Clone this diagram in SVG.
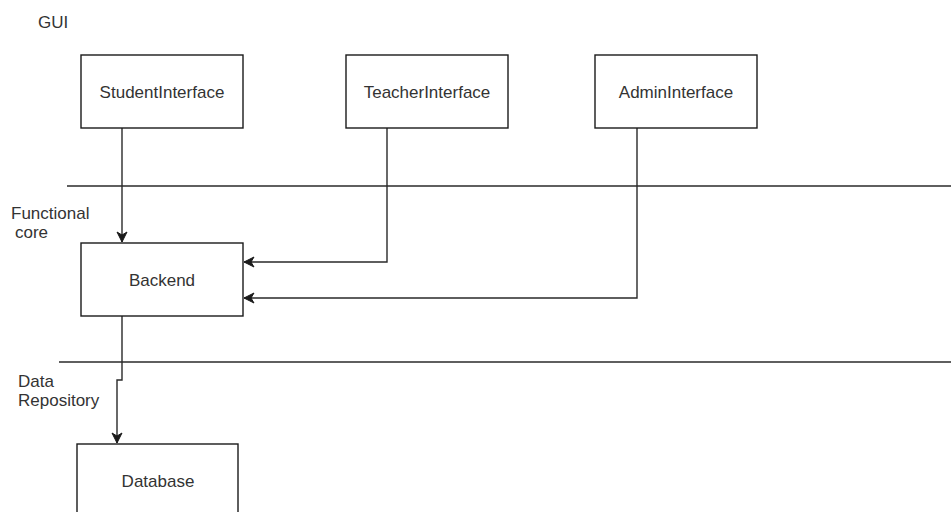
<svg xmlns="http://www.w3.org/2000/svg" width="951" height="512" viewBox="0 0 951 512">
  <defs>
    <marker id="arrow" markerUnits="userSpaceOnUse" markerWidth="12" markerHeight="12" viewBox="-11 -6 12 12" refX="0" refY="0" orient="auto">
      <path d="M0,0 L-10,-5 L-7,0 L-10,5 Z" fill="#1a1a1a" stroke="#1a1a1a" stroke-width="1" stroke-linejoin="miter"/>
    </marker>
  </defs>
  <style>
    .box { fill: #ffffff; stroke: #1a1a1a; stroke-width: 1.4; }
    .lbl { font-family: "Liberation Sans", Arial, sans-serif; font-size: 17px; fill: #333333; }
    .mid { text-anchor: middle; }
    .edge { fill: none; stroke: #2a2a2a; stroke-width: 1.4; }
    .sep { fill: none; stroke: #2a2a2a; stroke-width: 1.4; }
  </style>
  <rect width="951" height="512" fill="#ffffff"/>

  <g id="layers">
    <line class="sep" x1="67" y1="186" x2="951" y2="186"/>
    <line class="sep" x1="59" y1="362" x2="951" y2="362"/>
    <text class="lbl" x="38" y="28">GUI</text>
    <text class="lbl" x="11" y="219">Functional</text>
    <text class="lbl" x="15" y="238">core</text>
    <text class="lbl" x="18" y="387">Data</text>
    <text class="lbl" x="18" y="406">Repository</text>
  </g>

  <g id="connectors">
    <path class="edge" d="M122,128 L122,242" marker-end="url(#arrow)"/>
    <path class="edge" d="M387,128 L387,262 L244,262" marker-end="url(#arrow)"/>
    <path class="edge" d="M637,128 L637,298 L244,298" marker-end="url(#arrow)"/>
    <path class="edge" d="M122,316 L122,380 L117,380 L117,443" marker-end="url(#arrow)"/>
  </g>

  <g id="StudentInterface">
    <rect class="box" x="81" y="55" width="162" height="73"/>
    <text class="lbl mid" x="162" y="98">StudentInterface</text>
  </g>
  <g id="TeacherInterface">
    <rect class="box" x="346" y="55" width="162" height="73"/>
    <text class="lbl mid" x="427" y="98">TeacherInterface</text>
  </g>
  <g id="AdminInterface">
    <rect class="box" x="595" y="55" width="162" height="73"/>
    <text class="lbl mid" x="676" y="98">AdminInterface</text>
  </g>
  <g id="Backend">
    <rect class="box" x="81" y="243" width="162" height="73"/>
    <text class="lbl mid" x="162" y="286">Backend</text>
  </g>
  <g id="Database">
    <rect class="box" x="77" y="444" width="161" height="73"/>
    <text class="lbl mid" x="158" y="487">Database</text>
  </g>
</svg>
